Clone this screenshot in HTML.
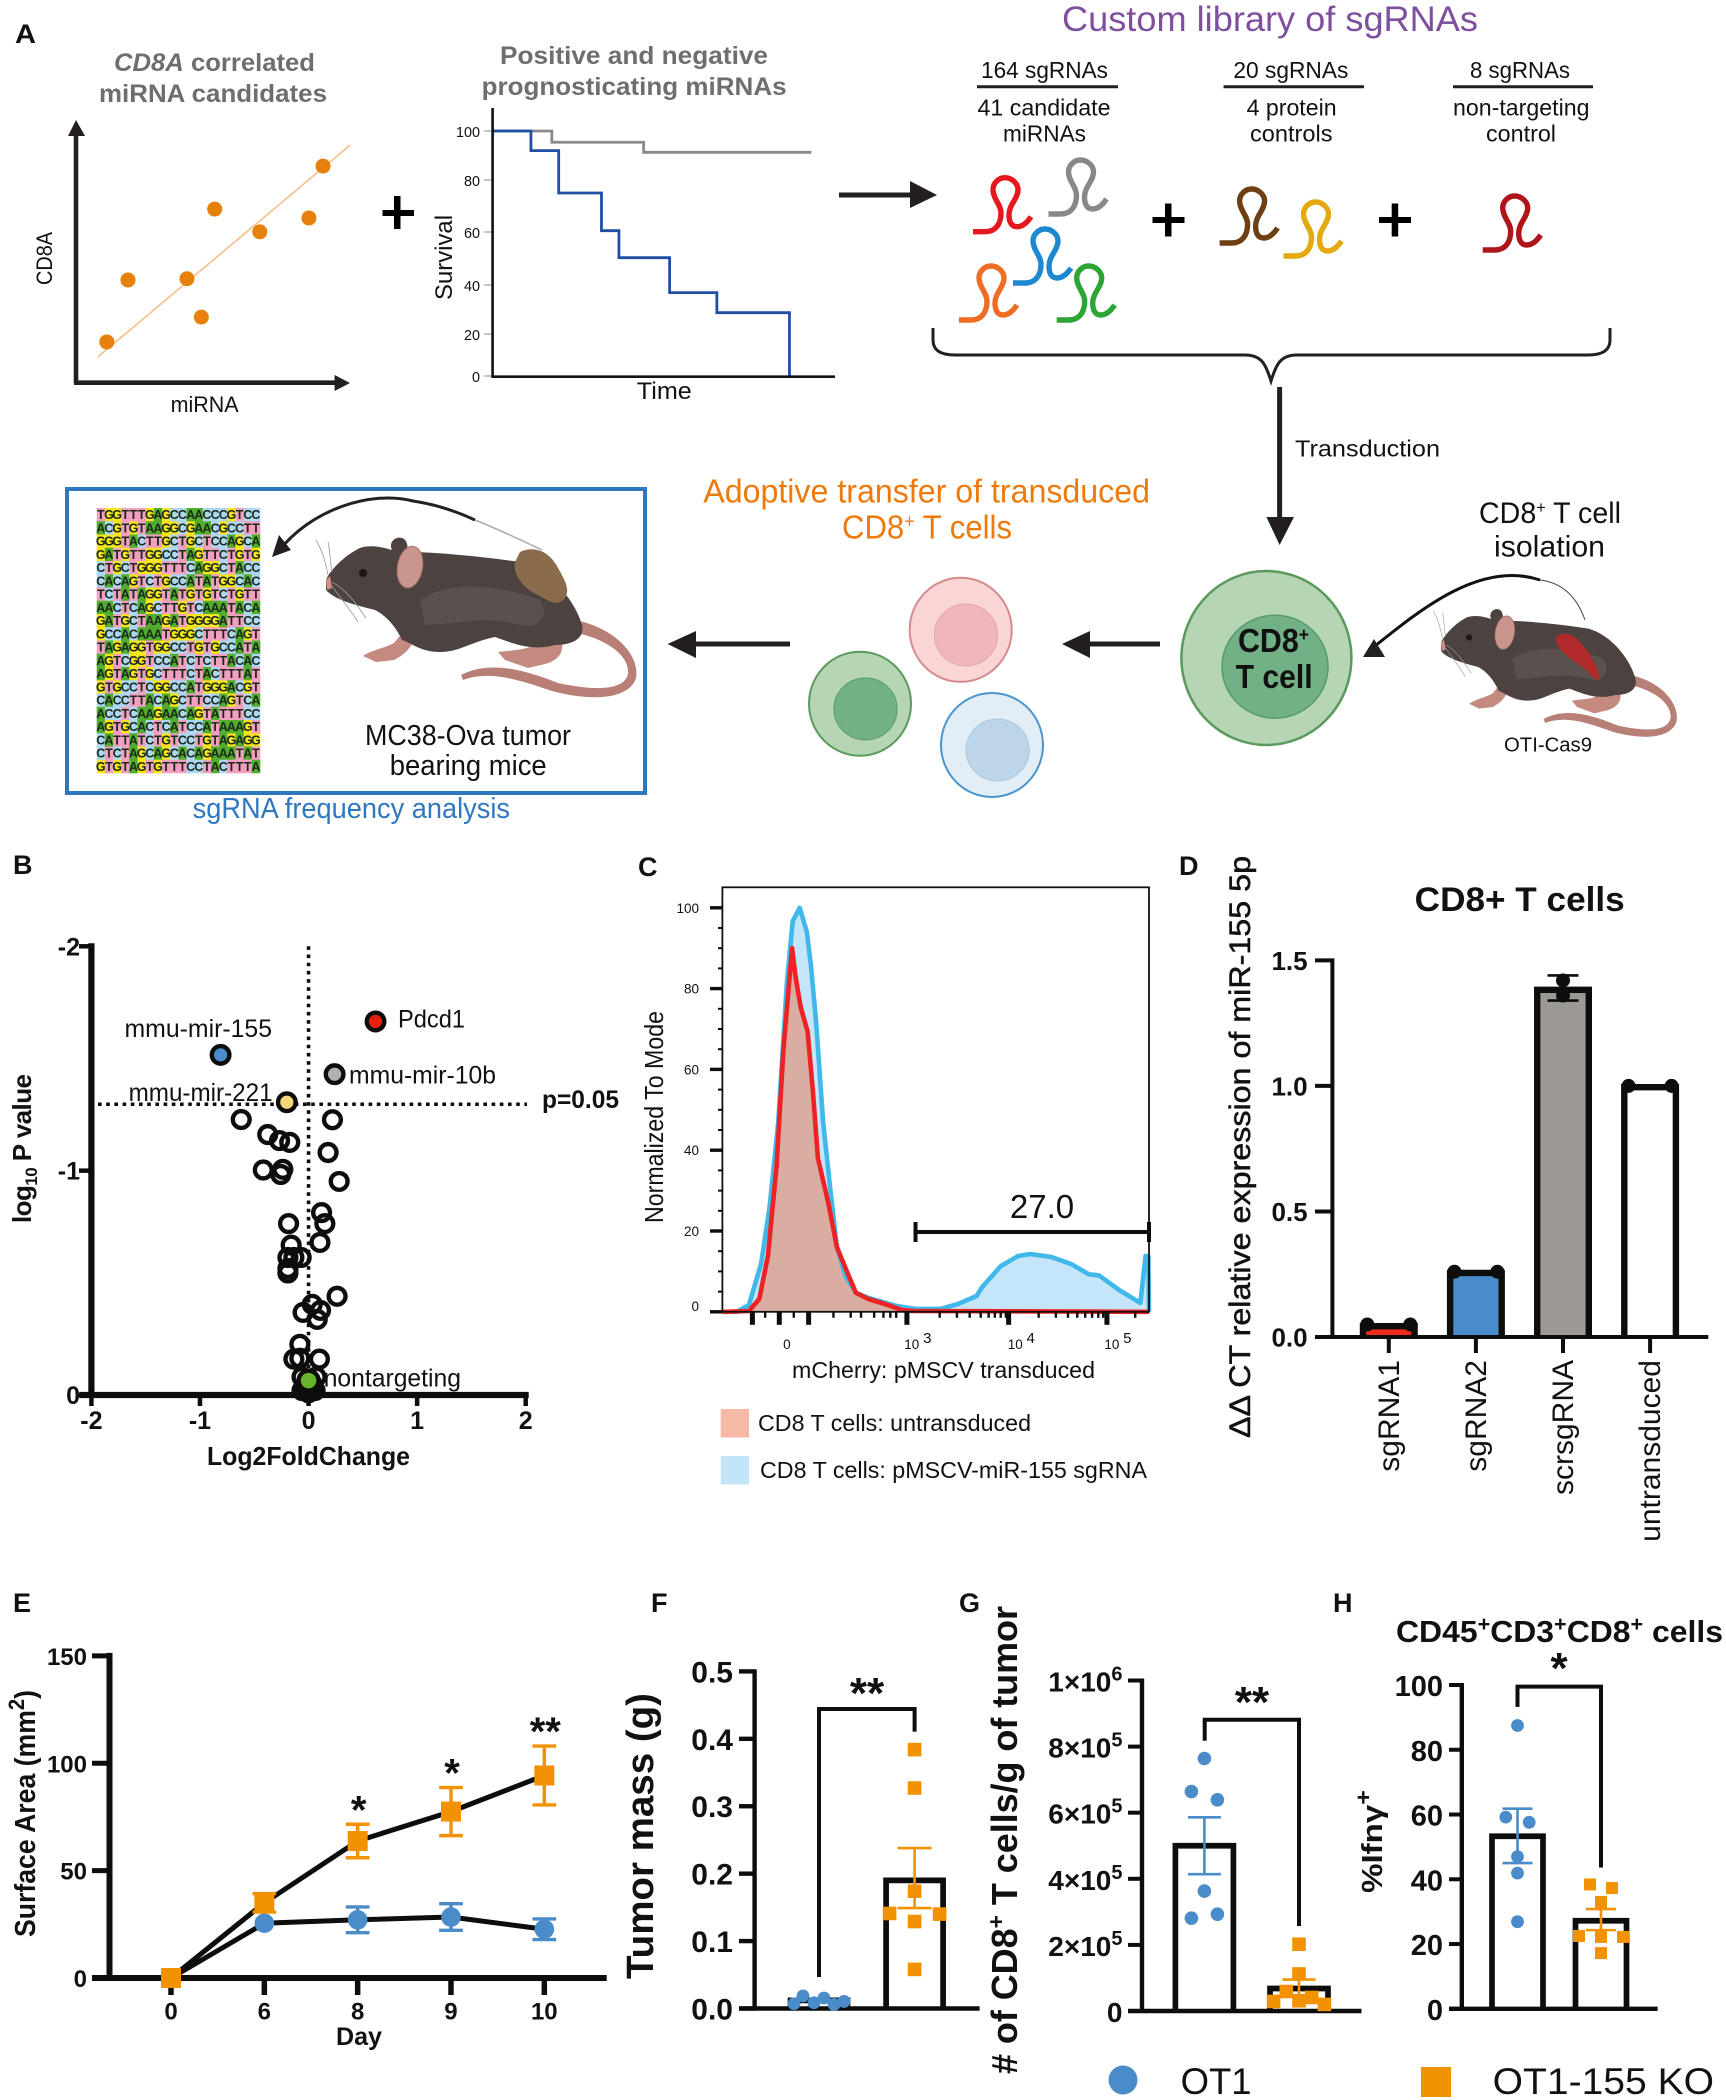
<!DOCTYPE html>
<html lang="en"><head><meta charset="utf-8"><title>Figure</title>
<style>
html,body{margin:0;padding:0;background:#fff}
svg{display:block}
text{font-family:"Liberation Sans",sans-serif;fill:#111}
.b{font-weight:bold}
.pl{font-weight:bold;font-size:27px}
</style></head><body>
<svg id="figure" xmlns="http://www.w3.org/2000/svg" width="1726" height="2100" viewBox="0 0 1726 2100">
<defs>
<path id="hairpin" fill="none" stroke-width="5.4" d="M0,55 H12 C22,55 28,48 28,36 C28,28 20,22 20,13 C20,6 26,1 32,1 C38,1 45,6 45,13 C45,22 36,28 36,38 C36,46 39,50 44,50 C49,50 54,46 58,40"/>
<g id="mouse">
<path fill="#b87f77" d="M575,620 C615,628 640,655 636,678 C628,702 585,700 552,691 C520,680 490,670 463,680 L461,675 C490,660 525,670 558,683 C590,690 624,692 628,674 C630,655 605,638 572,632 Z"/>
<path fill="#c48a80" d="M405,630 L414,640 C410,650 402,656 394,660 L376,662 L363,656 C372,650 385,648 394,643 Z"/>
<path fill="#c48a80" d="M560,636 C566,650 560,660 545,664 L528,668 L505,660 L498,652 C515,650 532,650 540,640 Z"/>
<path fill="#4c4240" d="M326,580 C330,570 345,555 360,548 C372,544 385,548 392,550 C388,542 396,536 402,538 C408,540 408,548 407,552 C430,552 470,555 520,562 C550,570 575,600 582,625 C585,640 570,645 555,645 C530,652 510,642 495,637 C470,642 460,652 440,652 C420,652 410,642 402,640 C395,625 385,615 375,610 C355,605 335,600 326,590 Z"/>
<path fill="#5a504d" d="M420,600 C450,580 500,585 540,600 C550,615 540,630 520,625 C490,615 450,625 425,625 Z"/>
<ellipse cx="410" cy="567" rx="12.500" ry="21" transform="rotate(10 410 567)" fill="#c9958c" stroke="#a8746c"/>
<circle cx="363" cy="573" r="4" fill="#1c1716"/>
<path fill="#d0918a" d="M326,580 L330,576 L332,588 L327,590 Z"/>
<path fill="none" stroke="#999" stroke-width=".8" d="M328,575 C325,560 322,550 316,540 M332,572 C330,560 330,550 328,542 M332,582 C350,592 360,610 366,618 M332,586 C342,600 352,612 358,622"/>
</g>
</defs>
<rect width="1726" height="2100" fill="#fff"/>

<!-- panel labels -->
<text class="pl" x="15" y="43" font-size="29" textLength="21" lengthAdjust="spacingAndGlyphs">A</text>
<text class="pl" x="13" y="874">B</text>
<text class="pl" x="638" y="876">C</text>
<text class="pl" x="1179" y="875">D</text>
<text class="pl" x="13" y="1612">E</text>
<text class="pl" x="651" y="1612">F</text>
<text class="pl" x="959" y="1612">G</text>
<text class="pl" x="1333" y="1612">H</text>

<!-- panel A : scatter illustration -->
<g id="a-scatter">
<text class="b" x="114" y="71" font-size="25" fill="#6d6e71" style="fill:#6d6e71" textLength="201" lengthAdjust="spacingAndGlyphs"><tspan font-style="italic">CD8A</tspan> correlated</text>
<text class="b" x="99" y="102" font-size="25" style="fill:#6d6e71" textLength="228" lengthAdjust="spacingAndGlyphs">miRNA candidates</text>
<path d="M76,383 V130" stroke="#231f20" stroke-width="4.6" fill="none"/>
<path d="M76,120 L85,136 H68 Z" fill="#231f20"/>
<path d="M74,382.7 H338" stroke="#231f20" stroke-width="4.6" fill="none"/>
<path d="M350,383 L334.6,375 V391 Z" fill="#231f20"/>
<text transform="rotate(-90 52 285)" x="52" y="285" font-size="22" textLength="53" lengthAdjust="spacingAndGlyphs">CD8A</text>
<text x="170.6" y="412" font-size="22" textLength="68" lengthAdjust="spacingAndGlyphs">miRNA</text>
</g>
<g fill="#000"><rect x="382.5" y="210" width="31.500" height="6"/><rect x="394" y="196" width="6.500" height="33"/></g>

<!-- panel A : survival -->
<g id="a-survival">
<text class="b" x="500" y="64" font-size="25" style="fill:#6d6e71" textLength="268" lengthAdjust="spacingAndGlyphs">Positive and negative</text>
<text class="b" x="481.600" y="95" font-size="25" style="fill:#6d6e71" textLength="305" lengthAdjust="spacingAndGlyphs">prognosticating miRNAs</text>
<text transform="rotate(-90 452 300)" x="452" y="300" font-size="24" textLength="85" lengthAdjust="spacingAndGlyphs">Survival</text>
<text x="636.800" y="399" font-size="24" textLength="55" lengthAdjust="spacingAndGlyphs">Time</text>
</g>

<!-- arrow to library -->
<g><path d="M839,195 H912" stroke="#231f20" stroke-width="5"/><path d="M937,195 L910,181 V208 Z" fill="#231f20"/></g>

<!-- library -->
<g>
<text x="1062" y="31" font-size="35" style="fill:#7f4f9f" textLength="416" lengthAdjust="spacingAndGlyphs">Custom library of sgRNAs</text>
<text x="981" y="78" font-size="23" textLength="127" lengthAdjust="spacingAndGlyphs">164 sgRNAs</text>
<text x="1233.400" y="78" font-size="23" textLength="115" lengthAdjust="spacingAndGlyphs">20 sgRNAs</text>
<text x="1470" y="78" font-size="23" textLength="100" lengthAdjust="spacingAndGlyphs">8 sgRNAs</text>
<path d="M977,86.700 H1118 M1223.500,86.700 H1364 M1453,86.700 H1593" stroke="#231f20" stroke-width="3"/>
<text x="977.500" y="115.700" font-size="23" textLength="133" lengthAdjust="spacingAndGlyphs">41 candidate</text>
<text x="1003" y="141.700" font-size="23" textLength="83" lengthAdjust="spacingAndGlyphs">miRNAs</text>
<text x="1246.600" y="115.700" font-size="23" textLength="90" lengthAdjust="spacingAndGlyphs">4 protein</text>
<text x="1250" y="141.700" font-size="23" textLength="82.500" lengthAdjust="spacingAndGlyphs">controls</text>
<text x="1453" y="115.700" font-size="23" textLength="136.500" lengthAdjust="spacingAndGlyphs">non-targeting</text>
<text x="1486" y="141.700" font-size="23" textLength="70" lengthAdjust="spacingAndGlyphs">control</text>
<use href="#hairpin" x="973" y="176.700" stroke="#e5181f"/>
<use href="#hairpin" x="1048.500" y="159" stroke="#8a8788"/>
<use href="#hairpin" x="1013" y="228" stroke="#1d87cf"/>
<use href="#hairpin" x="959" y="265" stroke="#ef6c24"/>
<use href="#hairpin" x="1056.700" y="265" stroke="#2da436"/>
<use href="#hairpin" x="1219.600" y="188" stroke="#6d3f12"/>
<use href="#hairpin" x="1283.500" y="201" stroke="#e3a90e"/>
<use href="#hairpin" x="1482.700" y="195" stroke="#ae1518"/>
<g fill="#000"><rect x="1152.500" y="217" width="32" height="6"/><rect x="1165" y="203.500" width="6.500" height="33"/></g>
<g fill="#000"><rect x="1379" y="217" width="32" height="6"/><rect x="1391.700" y="203.500" width="6.500" height="33"/></g>
<path d="M933,328 V340 C933,350 940,355 955,355 H1245 C1262,355 1266,365 1271,381 C1276,365 1280,355 1297,355 H1588 C1603,355 1610,350 1610,340 V328" fill="none" stroke="#231f20" stroke-width="3"/>
</g>
<g><path d="M1279.600,387 V520" stroke="#231f20" stroke-width="5"/><path d="M1279.600,545 L1266.400,517 H1294 Z" fill="#231f20"/></g>
<text x="1295" y="456.700" font-size="23" textLength="145" lengthAdjust="spacingAndGlyphs">Transduction</text>

<!-- cells -->
<g>
<ellipse cx="1266.400" cy="658" rx="85" ry="87" fill="#b5d5b5" stroke="#5a9a5a" stroke-width="2.500"/>
<ellipse cx="1275" cy="666.700" rx="53" ry="51.500" fill="#72b085" stroke="#559b6f" stroke-width="1.500"/>
<text class="b" x="1238" y="652" font-size="33" textLength="71" lengthAdjust="spacingAndGlyphs">CD8<tspan dy="-11" font-size="19">+</tspan></text>
<text class="b" x="1235.600" y="688" font-size="33" textLength="77" lengthAdjust="spacingAndGlyphs">T cell</text>
</g>
<g><ellipse cx="960.700" cy="629.800" rx="51" ry="52" fill="#f9d5d6" stroke="#d58a8f" stroke-width="2"/><ellipse cx="966" cy="635" rx="31.600" ry="31" fill="#f0b7ba" stroke="#e3a5a9"/></g>
<g><ellipse cx="992" cy="745" rx="51" ry="52" fill="#e3edf5" stroke="#4a95cf" stroke-width="2"/><ellipse cx="997.600" cy="750" rx="31.600" ry="31" fill="#bcd5e8" stroke="#a9c7e0"/></g>
<g><ellipse cx="860" cy="703.700" rx="51" ry="52" fill="#b5d5b5" stroke="#5a9a5a" stroke-width="2"/><ellipse cx="865.500" cy="709" rx="31.600" ry="31" fill="#72b085" stroke="#559b6f"/></g>
<g><path d="M1160,644 H1088" stroke="#231f20" stroke-width="5"/><path d="M1062,644 L1090,631 V658 Z" fill="#231f20"/></g>
<g><path d="M790,644 H694" stroke="#231f20" stroke-width="5"/><path d="M667.600,644 L696,631 V658 Z" fill="#231f20"/></g>
<text x="703.300" y="502.700" font-size="33" style="fill:#ee7a0c" textLength="446.700" lengthAdjust="spacingAndGlyphs">Adoptive transfer of transduced</text>
<text x="842" y="538.300" font-size="33" style="fill:#ee7a0c" textLength="170" lengthAdjust="spacingAndGlyphs">CD8<tspan dy="-11" font-size="19">+</tspan><tspan dy="11"> T cells</tspan></text>
<text x="1479" y="523" font-size="30" textLength="142" lengthAdjust="spacingAndGlyphs">CD8<tspan dy="-10" font-size="17">+</tspan><tspan dy="10"> T cell</tspan></text>
<text x="1494" y="556.700" font-size="30" textLength="111" lengthAdjust="spacingAndGlyphs">isolation</text>
<g>
<use href="#mouse" transform="translate(1441 643) scale(.76 .8) translate(-326 -580)"/>
<path d="M1556,638 C1560,631 1572,632 1582,644 C1592,656 1600,672 1599,680 C1595,680 1590,674 1584,668 C1572,660 1556,650 1556,638 Z" fill="#b02a2a"/>
</g>
<g><path d="M1370,650 C1420,610 1480,560 1540,580" stroke="#111" stroke-width="3" fill="none"/><path d="M1540,580 C1565,583 1578,600 1585,620" stroke="#444" stroke-width="1" fill="none"/><path d="M1363,657 L1374,639 L1385,657 Z" fill="#231f20"/></g>
<text x="1504" y="751.700" font-size="20" textLength="88" lengthAdjust="spacingAndGlyphs">OTI-Cas9</text>

<!-- frequency box -->
<rect x="67" y="489" width="578" height="304" fill="none" stroke="#2f78c0" stroke-width="4"/>
<g id="seq-block"></g>
<g>
<use href="#mouse"/>
<path d="M520,552 C535,545 550,552 558,568 C566,582 570,590 565,598 C558,607 550,602 540,596 C525,590 512,575 515,562 Z" fill="#8a6c4c"/>
</g>
<g><path d="M278,552 C310,510 370,490 413,501 C440,505 460,513 475,520" stroke="#222" stroke-width="3" fill="none"/><path d="M475,520 C500,530 525,542 542,550" stroke="#aaa" stroke-width="1.500" fill="none"/><path d="M272,557 L279,535 L291,550 Z" fill="#231f20"/></g>
<text x="365" y="745" font-size="29" textLength="206" lengthAdjust="spacingAndGlyphs">MC38-Ova tumor</text>
<text x="389.700" y="775" font-size="29" textLength="157" lengthAdjust="spacingAndGlyphs">bearing mice</text>
<text x="192.600" y="818" font-size="29" style="fill:#2f78c0" textLength="317.400" lengthAdjust="spacingAndGlyphs">sgRNA frequency analysis</text>

<!-- panel B -->
<g id="panel-b">
<text class="b" transform="rotate(-90 31 1223)" x="31" y="1223" font-size="26" textLength="149">log<tspan font-size="17" dy="6">10</tspan><tspan dy="-6"> P value</tspan></text>
<text class="b" x="207" y="1465" font-size="26" textLength="203" lengthAdjust="spacingAndGlyphs">Log2FoldChange</text>
<text class="b" x="542" y="1108" font-size="25" textLength="77" lengthAdjust="spacingAndGlyphs">p=0.05</text>
<text x="124.500" y="1037" font-size="25" textLength="147.500" lengthAdjust="spacingAndGlyphs">mmu-mir-155</text>
<text x="398" y="1027.500" font-size="25" textLength="67" lengthAdjust="spacingAndGlyphs">Pdcd1</text>
<text x="349" y="1083.500" font-size="25" textLength="147" lengthAdjust="spacingAndGlyphs">mmu-mir-10b</text>
<text x="128.600" y="1101" font-size="25" textLength="144" lengthAdjust="spacingAndGlyphs">mmu-mir-221</text>
</g>

<!-- panel C -->
<g id="panel-c">
<text transform="rotate(-90 663 1223)" x="663" y="1223" font-size="26" textLength="212" lengthAdjust="spacingAndGlyphs">Normalized To Mode</text>
<text x="792" y="1378" font-size="23" textLength="303" lengthAdjust="spacingAndGlyphs">mCherry: pMSCV transduced</text>
<rect x="720.700" y="1409" width="28.300" height="28.500" fill="#f6b9a6"/>
<text x="758" y="1431" font-size="23" textLength="273" lengthAdjust="spacingAndGlyphs">CD8 T cells: untransduced</text>
<rect x="720.700" y="1456" width="28.300" height="28.500" fill="#c3e5f9"/>
<text x="760" y="1478" font-size="23" textLength="387" lengthAdjust="spacingAndGlyphs">CD8 T cells: pMSCV-miR-155 sgRNA</text>
</g>

<!-- panel D -->
<g id="panel-d">
<text class="b" x="1414.700" y="911" font-size="34" textLength="210" lengthAdjust="spacingAndGlyphs">CD8+ T cells</text>
<text transform="rotate(-90 1250 1438)" x="1250" y="1438" font-size="30" textLength="582" lengthAdjust="spacingAndGlyphs" stroke="#111" stroke-width=".5">ΔΔ CT relative expression of miR-155 5p</text>
</g>

<!-- panel E -->
<g id="panel-e">
<text class="b" transform="rotate(-90 35 1937)" x="35" y="1937" font-size="29" textLength="247" lengthAdjust="spacingAndGlyphs">Surface Area (mm<tspan dy="-11" font-size="22">2</tspan><tspan dy="11">)</tspan></text>
<text class="b" x="336" y="2045" font-size="25" textLength="46" lengthAdjust="spacingAndGlyphs">Day</text>
</g>

<!-- panel F -->
<g id="panel-f">
<text class="b" transform="rotate(-90 653 1979)" x="653" y="1979" font-size="38" textLength="286" lengthAdjust="spacingAndGlyphs">Tumor mass (g)</text>
</g>

<!-- panel G -->
<g id="panel-g">
<text class="b" transform="rotate(-90 1017 2074)" x="1017" y="2074" font-size="36" textLength="468">
# of CD8<tspan dy="-13" font-size="23">+</tspan><tspan dy="13"> T cells/g of tumor</tspan></text>
</g>

<!-- panel H -->
<g id="panel-h">
<text class="b" x="1396" y="1642" font-size="31" textLength="327" lengthAdjust="spacingAndGlyphs">CD45<tspan dy="-11" font-size="21">+</tspan><tspan dy="11">CD3</tspan><tspan dy="-11" font-size="21">+</tspan><tspan dy="11">CD8</tspan><tspan dy="-11" font-size="21">+</tspan><tspan dy="11"> cells</tspan></text>
<text class="b" transform="rotate(-90 1382 1893)" x="1382" y="1893" font-size="29" textLength="103" lengthAdjust="spacingAndGlyphs">%Ifnγ<tspan dy="-11" font-size="22">+</tspan></text>
</g>

<!-- shared legend -->
<g>
<circle cx="1123" cy="2080" r="14.500" fill="#4a8bc9"/>
<text x="1180.600" y="2094" font-size="37" textLength="71" lengthAdjust="spacingAndGlyphs">OT1</text>
<rect x="1421" y="2067" width="30" height="30" fill="#f39200"/>
<text x="1492.700" y="2094" font-size="37" textLength="221.300" lengthAdjust="spacingAndGlyphs">OT1-155 KO</text>
</g>
</svg>
<script>
// ---------- Panel A data ----------
const scatterMirna = [0.035, 0.119, 0.353, 0.41, 0.463, 0.642, 0.837, 0.893];
const scatterCd8a = [0.133, 0.375, 0.38, 0.23, 0.652, 0.563, 0.617, 0.82];
const scatterFitX = [0, 1];
const scatterFitY = [0.075, 0.902];
const survivalTicks = [100, 80, 60, 40, 20, 0];
const survivalBlueTime = [0, 11.2, 19.3, 31.8, 36.9, 51.7, 65.5, 86.7];
const survivalBlueLevel = [100, 92, 75, 60.5, 50.3, 36.9, 28.7, 0];
const survivalGrayTime = [0, 17.3, 44.1, 93.1];
const survivalGrayLevel = [100, 95.4, 91.3, 91.3];
const sequenceRows = ["TGGTTTGAGCCAACCCGTCC","ACGTGTAAGGCGAACGCCTT","GGGTACTTGCTGCTCCAGCA","GATGTTGGCCTAGTTCTGTG","CTGCTGGGTTTCAGGCTACC","CACAGTCTGCCATATGGCAC","TCTATAGGTATGTGTCTGTT","AACTCAGCTTGTCAAATACA","GATGCTAAGATGGGGATTCC","GCCACAAATGGGCTTTCAGT","TAGAGGTGGCCTGTGCCATA","AGTCGGTCCATCTCTTACAC","AGTAGTGCTTTCTACTTTAT","GTGCCTCGGCCATGGGACGT","CACCTTACAGCTTCCAGTCA","ACCTCAAGAACAGTATTTCC","AGTGCACTCATCCATAAAGT","CATTATCTGTCCTGTAGAGG","CTCTAGCAGCACAGAAATAT","GTGTAGTGTTTCCTACTTTA"];
// ---------- Panel B data ----------
const bTicksX = [-2, -1, 0, 1, 2];
const bTicksY = [-2, -1, 0];
const bOpenFC = [-0.62,0.22,-0.376,-0.267,-0.173,0.18,-0.417,-0.237,-0.256,0.282,0.12,0.15,-0.184,0.105,-0.16,-0.19,-0.135,-0.068,-0.19,-0.19,0.263,0.034,0.11,-0.05,0.08,-0.08,0.1,-0.135,-0.08,-0.06,0.07,0,-0.04,0.04,-0.03,0.03,-0.06,0.06,0];
const bOpenP = [-1.228,-1.227,-1.161,-1.134,-1.126,-1.081,-1.003,-1.006,-0.983,-0.952,-0.813,-0.764,-0.764,-0.68,-0.668,-0.613,-0.613,-0.613,-0.564,-0.544,-0.44,-0.404,-0.377,-0.368,-0.337,-0.226,-0.16,-0.16,-0.164,-0.08,-0.08,-0.01,-0.03,-0.03,-0.04,-0.05,-0.02,-0.02,-0.06];
const bHitFC = [0.617, -0.81, 0.24, -0.2, 0];
const bHitP = [-1.665, -1.516, -1.43, -1.305, -0.064];
const bThresholdP = -1.296;
const bNontargetLabel = ["nontargeting"];
// ---------- Panel C data ----------
const cYTicks = [100, 80, 60, 40, 20, 0];
const cYMinor = [95,90,85,75,70,65,55,50,45,35,30,25,15,10,5];
const cBlueChannel = [0,42,77,112,137,162,187,204,224,245,257,272,292,312,332,357,387,422,462,502,562,632,682,737,752,807,857,892,952,1012,1062,1092,1152,1212,1227,1235,1237];
const cBlueValue = [0,0,1.7,11.8,26,47,81.5,96.7,100,94,85.5,71.4,47,31,16,8.8,4.7,3.5,2.5,1.5,0.7,0.7,1.9,3.9,6,11.3,13.8,14.3,13.6,11.8,9.3,9,5.3,2.2,13.8,13.8,0];
const cRedChannel = [0,12,77,107,132,157,177,202,212,227,247,262,277,307,332,357,387,422,472,522,552,1237];
const cRedValue = [0,0,0.2,3.2,13.8,36,65,90,83,75.4,69.4,55,38,27,16,10.8,4.7,3.2,1.9,0.4,0.2,0];
const cLogTicksMajor = [87,165,250,535,830,1115];
const cLogTicksMinor = [124,207,322,372,402,440,467,487,504,630,680,717,749,772,790,807,822,917,967,1002,1029,1052,1072,1090,1104,1197];
const cGateChannels = [560, 1237];
const cGateLevel = 20;
const cGateLabel = "27.0";
const cZeroLabelChannel = [187];
const cDecadeChannels = [532, 832, 1112];
const cDecadeExponents = ["3", "4", "5"];
// ---------- Panel D data ----------
const dCategories = ["sgRNA1", "sgRNA2", "scrsgRNA", "untransduced"];
const dMeans = [0.043, 0.255, 1.383, 0.995];
const dRep1 = [0.05, 0.26, 1.42, 1];
const dRep2 = [0.05, 0.26, 1.36, 1];
const dErrHigh = [0.05, 0.26, 1.44, 1];
const dErrLow = [0.04, 0.25, 1.34, 0.99];
const dTicks = [0, 0.5, 1, 1.5];
const dTickLabels = ["0.0", "0.5", "1.0", "1.5"];
// ---------- Panel E data ----------
const eDays = ["0", "6", "8", "9", "10"];
const eTicks = [0, 50, 100, 150];
const eOt1 = [0, 25.5, 27.1, 28.4, 22.7];
const eOt1Err = [0, 0, 6, 6.2, 4.8];
const eKo = [0, 35, 63.8, 77.5, 94.3];
const eKoErr = [0, 4.3, 7.8, 11.2, 13.7];
const eStars = ["", "", "*", "*", "**"];
// ---------- Panel F data ----------
const fTicks = [0, 0.1, 0.2, 0.3, 0.4, 0.5];
const fTickLabels = ["0.0", "0.1", "0.2", "0.3", "0.4", "0.5"];
const fOt1Mean = 0.012;
const fOt1 = [0.007, 0.0186, 0.0085, 0.0156, 0.006, 0.0105];
const fOt1Slot = [-2.5, -1.6, -0.5, 0.5, 1.5, 2.5];
const fKoMean = 0.19;
const fKo = [0.384, 0.327, 0.174, 0.141, 0.14, 0.129, 0.058];
const fKoSlot = [0, 0, 0, -1, 1, 0, 0];
const fKoErrHigh = 0.238;
const fKoErrLow = 0.149;
// ---------- Panel G data ----------
const gTicks = [0, 200000, 400000, 600000, 800000, 1000000];
const gTickMantissa = ["0", "2×10", "4×10", "6×10", "8×10", "1×10"];
const gTickExponent = ["", "5", "5", "5", "5", "6"];
const gOt1Mean = 500000;
const gOt1 = [764000, 664000, 639000, 363000, 293000, 281000];
const gOt1Slot = [0, -1, 1, 0, 1, -1];
const gOt1ErrHigh = 586000;
const gOt1ErrLow = 414000;
const gKoMean = 68000;
const gKo = [202000, 112000, 59000, 29000, 31000, 41000, 20000];
const gKoSlot = [0, 0, -1, -2, 0, 1, 2];
const gKoErrHigh = 95000;
const gKoErrLow = 45000;
// ---------- Panel H data ----------
const hTicks = [0, 20, 40, 60, 80, 100];
const hOt1Mean = 53.3;
const hOt1 = [87.5, 59.2, 57.6, 47, 41.9, 26.9];
const hOt1Slot = [0, -1.3, 1.3, 0, 0, 0];
const hOt1ErrHigh = 61.8;
const hOt1ErrLow = 45;
const hKoMean = 27.2;
const hKo = [38.4, 37.3, 33, 22.5, 22.2, 22.2, 17.2];
const hKoSlot = [-1, 1, 0, -2, 2, 0, 0];
const hKoErrHigh = 30.8;
const hKoErrLow = 24.3;

const NS = 'http://www.w3.org/2000/svg';
const BLUE = '#4a8bc9', ORANGE = '#f39200', INK = '#0d0d0b';
function mk(tag, attrs, parent) {
  const el = document.createElementNS(NS, tag);
  for (const k in attrs) el.setAttribute(k, attrs[k]);
  parent.appendChild(el);
  return el;
}
function linear(d0, d1, r0, r1) { return v => r0 + (v - d0) * (r1 - r0) / (d1 - d0); }
function piecewise(dom, ran) {
  return v => {
    for (let i = 0; i < dom.length - 1; i++) {
      if (v >= dom[i] && v <= dom[i + 1]) return ran[i] + (v - dom[i]) * (ran[i + 1] - ran[i]) / (dom[i + 1] - dom[i]);
    }
    return ran[0];
  };
}
function axisLine(g, x1, y1, x2, y2, w, name) {
  const line = mk('line', {x1, y1, x2, y2, stroke: INK, 'stroke-width': w}, g);
  
  
  return line;
}
function yTicks(g, scale, ticks, labels, c) {
  ticks.forEach((t, i) => {
    const tick = mk('line', {x1: c.x0, y1: scale(t), x2: c.x1, y2: scale(t), stroke: INK, 'stroke-width': c.w}, g);
    
    
    const lab = mk('text', {x: c.lx, y: scale(t) + c.dy, 'text-anchor': 'end', 'font-size': c.fs, 'font-weight': c.fw || 'bold'}, g);
    lab.textContent = labels[i];
    
    
  });
}
function errorBar(g, x, yHigh, yLow, cap, color, w) {
  const stem = mk('path', {d: `M${x},${yHigh} V${yLow} M${x - cap / 2},${yHigh} H${x + cap / 2} M${x - cap / 2},${yLow} H${x + cap / 2}`, stroke: color, 'stroke-width': w, fill: 'none'}, g);
  
  
}
function barRect(g, cx, width, yTop, y0, fill, sw, name) {
  const bar = mk('path', {d: `M${cx - width / 2},${y0} V${yTop} H${cx + width / 2} V${y0}`, fill, stroke: INK, 'stroke-width': sw}, g);
  
  
}
function dotsCircle(g, xs, ys, r) {
  xs.forEach((x, i) => {
    const dot = mk('circle', {cx: x, cy: ys[i], r, fill: BLUE}, g);
    
    
  });
}
function dotsSquare(g, xs, ys, s) {
  xs.forEach((x, i) => {
    const dot = mk('rect', {x: x - s / 2, y: ys[i] - s / 2, width: s, height: s, fill: ORANGE}, g);
    
    
  });
}
function bracket(g, x1, yStart, yTop, x2, yEnd, star, sx, sy, fs) {
  const br = mk('path', {d: `M${x1},${yStart} V${yTop} H${x2} V${yEnd}`, fill: 'none', stroke: INK, 'stroke-width': 4}, g);
  
  
  const st = mk('text', {x: sx, y: sy, 'text-anchor': 'middle', 'font-size': fs, 'font-weight': 'bold'}, g);
  st.textContent = star;
  
  
}

// ---------- Panel A scatter ----------
(function () {
  const g = document.getElementById('a-scatter');
  const sx = linear(0, 1, 98, 350), sy = linear(0, 1, 376, 120);
  const fit = mk('line', {x1: sx(scatterFitX[0]), y1: sy(scatterFitY[0]), x2: sx(scatterFitX[1]), y2: sy(scatterFitY[1]), stroke: '#f5c089', 'stroke-width': 1.6}, g);
  
  
  scatterMirna.forEach((m, i) => {
    const p = mk('circle', {cx: sx(m), cy: sy(scatterCd8a[i]), r: 7.5, fill: '#e8800c'}, g);
    
    
  });
})();
// ---------- Panel A survival ----------
(function () {
  const g = document.getElementById('a-survival');
  const st = linear(0, 100, 492.6, 835);
  const sv = piecewise([0, 20, 40, 60, 80, 100], [376, 334, 285, 232, 180, 131]);
  survivalTicks.forEach(t => {
    const tick = mk('line', {x1: 484, y1: sv(t), x2: 492, y2: sv(t), stroke: '#888', 'stroke-width': 1}, g);
    
    
    const lab = mk('text', {x: 480, y: sv(t) + 6, 'text-anchor': 'end', 'font-size': 15, textLength: String(t).length * 8, lengthAdjust: 'spacingAndGlyphs'}, g);
    lab.textContent = t;
    
    
  });
  function stepPath(ts, ls, close) {
    let d = `M${st(ts[0])},${sv(ls[0])}`;
    for (let i = 1; i < ts.length; i++) d += ` H${st(ts[i])} V${sv(ls[i])}`;
    return d;
  }
  const gray = mk('path', {d: stepPath(survivalGrayTime, survivalGrayLevel), fill: 'none', stroke: '#8a8a8a', 'stroke-width': 2.8}, g);
  
  
  const blue = mk('path', {d: stepPath(survivalBlueTime, survivalBlueLevel), fill: 'none', stroke: '#1f4fa3', 'stroke-width': 2.8}, g);
  
  
  const ax = mk('path', {d: `M492.600,108 V376.700 H835`, fill: 'none', stroke: '#111', 'stroke-width': 2.6}, g);
  
  
})();
// ---------- Sequence block ----------
(function () {
  const g = document.getElementById('seq-block');
  const colors = {T: '#f29fc0', G: '#f7e51c', A: '#52ad2e', C: '#aed8f2'};
  const cw = 163.3 / 20, ch = 265 / 20, x0 = 96.7, y0 = 508;
  sequenceRows.forEach((row, r) => {
    const rowG = mk('g', {}, g);
    
    
    [...row].forEach((ch_, c) => {
      const cell = mk('rect', {x: x0 + c * cw, y: y0 + r * ch, width: cw + 0.3, height: ch + 0.3, fill: colors[ch_]}, rowG);
      
      
    });
    const xs = [...row].map((_, c) => (x0 + (c + 0.5) * cw).toFixed(2)).join(' ');
    const t = mk('text', {x: xs, y: y0 + r * ch + 11.2, 'text-anchor': 'middle', 'font-size': 12.5, 'font-weight': 'bold'}, rowG);
    t.style.fill = '#1a2a1a';
    t.textContent = row;
    
    
  });
})();
// ---------- Panel B ----------
(function () {
  const g = document.getElementById('panel-b');
  const x = linear(-2, 2, 91.4, 525.7), y = linear(-2, 0, 946.3, 1395);
  const hd = mk('line', {x1: 98, y1: y(bThresholdP), x2: 527, y2: y(bThresholdP), stroke: INK, 'stroke-width': 3.6, 'stroke-dasharray': '3.6 4.6'}, g);
  
  
  const vd = mk('line', {x1: x(0), y1: y(-2), x2: x(0), y2: y(0), stroke: INK, 'stroke-width': 3.6, 'stroke-dasharray': '3.6 4.6'}, g);
  
  
  bOpenFC.forEach((fc, i) => {
    const c = mk('circle', {cx: x(fc), cy: y(bOpenP[i]), r: 8.4, fill: 'none', stroke: INK, 'stroke-width': 4.4}, g);
    
    
  });
  const hitFill = ['#e8200f', '#4a8bc9', '#b3b1b0', '#f8d97a', '#67b42c'];
  const hitName = ['pdcd1-point', 'mmu-mir-155-point', 'mmu-mir-10b-point', 'mmu-mir-221-point', 'nontargeting-point'];
  bHitFC.forEach((fc, i) => {
    const c = mk('circle', {cx: x(fc), cy: y(bHitP[i]), r: i === 4 ? 10 : 8.8, fill: hitFill[i], stroke: INK, 'stroke-width': i === 4 ? 4.5 : 4.4}, g);
    
    
  });
  const nt = mk('text', {x: 323.7, y: 1386.7, 'font-size': 25, textLength: 137.3, lengthAdjust: 'spacingAndGlyphs'}, g);
  nt.textContent = bNontargetLabel[0];
  
  
  axisLine(g, x(-2), y(-2) - 3, x(-2), y(0), 6.2, 'volcano-y-axis');
  axisLine(g, x(-2) - 12, y(0), x(2) + 3, y(0), 6.2, 'volcano-x-axis');
  yTicks(g, y, bTicksY, bTicksY.map(String), {x0: 79, x1: x(-2), w: 4.5, lx: 80, dy: 9, fs: 25});
  bTicksX.forEach(t => {
    const tick = mk('line', {x1: x(t), y1: y(0), x2: x(t), y2: 1406, stroke: INK, 'stroke-width': 4.5}, g);
    
    
    const lab = mk('text', {x: x(t), y: 1429, 'text-anchor': 'middle', 'font-size': 25, 'font-weight': 'bold'}, g);
    lab.textContent = t;
    
    
  });
})();
// ---------- Panel C ----------
(function () {
  const g = document.getElementById('panel-c');
  const x = linear(0, 1237, 722.4, 1149), y = linear(0, 100, 1311.8, 907.8);
  function areaPath(ch, val) {
    let d = `M${x(ch[0])},${y(0)}`;
    ch.forEach((c, i) => { d += ` L${x(c)},${y(val[i])}`; });
    return d + ` L${x(ch[ch.length - 1])},${y(0)} Z`;
  }
  function linePath(ch, val) { return ch.map((c, i) => (i ? 'L' : 'M') + x(c) + ',' + y(val[i])).join(' '); }
  const bf = mk('path', {d: areaPath(cBlueChannel, cBlueValue), fill: '#c5e6fa'}, g);
  
  
  const rf = mk('path', {d: areaPath(cRedChannel, cRedValue), fill: '#d9ada2'}, g);
  
  
  const bl = mk('path', {d: linePath(cBlueChannel, cBlueValue), fill: 'none', stroke: '#41b8ea', 'stroke-width': 4.6, 'stroke-linejoin': 'round'}, g);
  
  
  const rl = mk('path', {d: linePath(cRedChannel, cRedValue), fill: 'none', stroke: '#ee2224', 'stroke-width': 4.6, 'stroke-linejoin': 'round'}, g);
  
  
  const box = mk('rect', {x: x(0), y: 887.3, width: x(1237) - x(0), height: y(0) - 887.3, fill: 'none', stroke: '#111', 'stroke-width': 1.8}, g);
  
  
  cYTicks.forEach(t => {
    const tick = mk('line', {x1: 710, y1: y(t), x2: x(0), y2: y(t), stroke: INK, 'stroke-width': 3.4}, g);
    
    
    const lab = mk('text', {x: 699, y: y(t) + (t === 0 ? -1 : 5), 'text-anchor': 'end', 'font-size': 13.5}, g);
    lab.textContent = t;
    
    
  });
  cYMinor.forEach(t => {
    const tick = mk('line', {x1: 718, y1: y(t), x2: x(0), y2: y(t), stroke: INK, 'stroke-width': 2}, g);
    
    
  });
  cLogTicksMajor.forEach(c => {
    const tick = mk('line', {x1: x(c), y1: y(0), x2: x(c), y2: y(0) + 13, stroke: INK, 'stroke-width': 5}, g);
    
    
  });
  cLogTicksMinor.forEach(c => {
    const tick = mk('line', {x1: x(c), y1: y(0), x2: x(c), y2: y(0) + 6, stroke: INK, 'stroke-width': 2.4}, g);
    
    
  });
  const zero = mk('text', {x: x(cZeroLabelChannel[0]), y: 1349, 'text-anchor': 'middle', 'font-size': 13.5}, g);
  zero.textContent = '0';
  
  
  cDecadeChannels.forEach((c, i) => {
    const lab = mk('text', {x: x(c) + 12, y: 1349, 'text-anchor': 'middle', 'font-size': 13.5}, g);
    lab.textContent = '10 ';
    
    
    const sup = mk('tspan', {dy: -6, 'font-size': 15}, lab);
    sup.textContent = cDecadeExponents[i];
  });
  const gate = mk('path', {d: `M${x(cGateChannels[0])},${y(cGateLevel) + 1} H${x(cGateChannels[1])} M${x(cGateChannels[0])},${y(cGateLevel) - 9} v20 M${x(cGateChannels[1])},${y(cGateLevel) - 9} v20`, stroke: INK, 'stroke-width': 4, fill: 'none'}, g);
  
  
  const gl = mk('text', {x: 1042, y: 1218, 'text-anchor': 'middle', 'font-size': 33}, g);
  gl.textContent = cGateLabel;
  
  
})();
// ---------- Panel D ----------
(function () {
  const g = document.getElementById('panel-d');
  const y = linear(0, 1.5, 1337, 960.4);
  const x = i => 1388.8 + i * 87.1;
  const fills = ['#ee2b1c', '#4a8bc9', '#9c9896', '#ffffff'];
  dCategories.forEach((cat, i) => {
    barRect(g, x(i), 51.6, y(dMeans[i]), 1337, fills[i], 6.4, 'bar-' + cat);
  });
  dCategories.forEach((cat, i) => {
    if (dErrHigh[i] - dErrLow[i] > 0.02) errorBar(g, x(i), y(dErrHigh[i]), y(dErrLow[i]), 31, INK, 2.6);
    const spread = i === 2 ? 0 : 21.5;
    [dRep1[i], dRep2[i]].forEach((v, k) => {
      const p = mk('circle', {cx: x(i) + (k ? spread : -spread), cy: y(v), r: 7, fill: INK}, g);
      
      
    });
    const tick = mk('line', {x1: x(i), y1: 1337, x2: x(i), y2: 1353, stroke: INK, 'stroke-width': 4}, g);
    
    
    const lab = mk('text', {transform: `rotate(-90 ${x(i) + 10} 1360)`, x: x(i) + 10, y: 1360, 'text-anchor': 'end', 'font-size': 30}, g);
    lab.textContent = cat;
    
    
  });
  axisLine(g, 1332.4, y(1.5) - 2, 1332.4, 1339, 4, 'qpcr-y-axis');
  axisLine(g, 1315, 1337, 1708.3, 1337, 4, 'qpcr-x-axis');
  yTicks(g, y, dTicks, dTickLabels, {x0: 1315, x1: 1332, w: 4, lx: 1307.6, dy: 9.5, fs: 26});
})();
// ---------- Panel E ----------
(function () {
  const g = document.getElementById('panel-e');
  const y = linear(0, 150, 1978, 1655.9);
  const x = i => 171 + i * 93.33;
  axisLine(g, 109.5, y(150) - 3, 109.5, 1981, 6, 'growth-y-axis');
  axisLine(g, 92, 1978, 606.7, 1978, 6, 'growth-x-axis');
  yTicks(g, y, eTicks, eTicks.map(String), {x0: 92, x1: 109.5, w: 5, lx: 87, dy: 9, fs: 24});
  eDays.forEach((d, i) => {
    const tick = mk('line', {x1: x(i), y1: 1978, x2: x(i), y2: 1995, stroke: INK, 'stroke-width': 5.5}, g);
    
    
    const lab = mk('text', {x: x(i), y: 2019.6, 'text-anchor': 'middle', 'font-size': 24, 'font-weight': 'bold'}, g);
    lab.textContent = d;
    
    
  });
  const lineOt1 = mk('path', {d: eOt1.map((v, i) => (i ? 'L' : 'M') + x(i) + ',' + y(v)).join(' '), fill: 'none', stroke: INK, 'stroke-width': 5}, g);
  
  
  const lineKo = mk('path', {d: eKo.map((v, i) => (i ? 'L' : 'M') + x(i) + ',' + y(v)).join(' '), fill: 'none', stroke: INK, 'stroke-width': 5}, g);
  
  
  eOt1.forEach((v, i) => {
    if (eOt1Err[i] > 0) errorBar(g, x(i), y(v + eOt1Err[i]), y(v - eOt1Err[i]), 23.7, BLUE, 3.4);
    const m = mk('circle', {cx: x(i), cy: y(v), r: 9.8, fill: BLUE}, g);
    
    
  });
  eKo.forEach((v, i) => {
    if (eKoErr[i] > 0) errorBar(g, x(i), y(v + eKoErr[i]), y(v - eKoErr[i]), 23.7, ORANGE, 3.4);
    const m = mk('rect', {x: x(i) - 10, y: y(v) - 10, width: 20, height: 20, fill: ORANGE}, g);
    
    
    if (eStars[i]) {
      const s = mk('text', {x: x(i) + 1, y: y(v + eKoErr[i]) - 1, 'text-anchor': 'middle', 'font-size': 40, 'font-weight': 'bold'}, g);
      s.textContent = eStars[i];
      
      
    }
  });
})();
// ---------- Panel F ----------
(function () {
  const g = document.getElementById('panel-f');
  const y = linear(0, 0.5, 2008.5, 1671.4);
  const cO = 819, cK = 914.6;
  barRect(g, cO, 57, y(fOt1Mean), 2008.5, '#fff', 5.7, 'bar-ot1');
  barRect(g, cK, 57, y(fKoMean), 2008.5, '#fff', 5.7, 'bar-ko');
  axisLine(g, 754.6, y(0.5) - 2, 754.6, 2010, 4.4, 'mass-y-axis');
  axisLine(g, 739, 2008.5, 979.6, 2008.5, 4.4, 'mass-x-axis');
  yTicks(g, y, fTicks, fTickLabels, {x0: 739, x1: 755, w: 4.4, lx: 733, dy: 11, fs: 30});
  errorBar(g, cK, y(fKoErrHigh), y(fKoErrLow), 34, ORANGE, 2.6);
  dotsCircle(g, fOt1.map((v, i) => cO + fOt1Slot[i] * 10), fOt1.map(y), 6.4);
  dotsSquare(g, fKo.map((v, i) => cK + fKoSlot[i] * 25), fKo.map(y), 13.6);
  bracket(g, 819, 1977, 1709, 914.6, 1731.6, '**', 867, 1708, 44);
})();
// ---------- Panel G ----------
(function () {
  const g = document.getElementById('panel-g');
  const y = linear(0, 1000000, 2011, 1680.5);
  const cO = 1204.4, cK = 1299;
  barRect(g, cO, 58, y(gOt1Mean), 2011, '#fff', 5.7, 'bar-ot1');
  barRect(g, cK, 58, y(gKoMean), 2011, '#fff', 5.7, 'bar-ko');
  axisLine(g, 1142, y(1000000) - 2, 1142, 2013, 4.4, 'count-y-axis');
  axisLine(g, 1128, 2011, 1361.5, 2011, 4.4, 'count-x-axis');
  gTicks.forEach((t, i) => {
    const tick = mk('line', {x1: 1128, y1: y(t), x2: 1142, y2: y(t), stroke: INK, 'stroke-width': 4}, g);
    
    
    const lab = mk('text', {x: 1122.5, y: y(t) + 11, 'text-anchor': 'end', 'font-size': 28, 'font-weight': 'bold'}, g);
    lab.textContent = gTickMantissa[i];
    
    
    if (gTickExponent[i]) {
      const sup = mk('tspan', {dy: -11, 'font-size': 20}, lab);
      sup.textContent = gTickExponent[i];
    }
  });
  errorBar(g, cO, y(gOt1ErrHigh), y(gOt1ErrLow), 33, BLUE, 2.6);
  errorBar(g, cK, y(gKoErrHigh), y(gKoErrLow), 33, ORANGE, 2.6);
  dotsCircle(g, gOt1.map((v, i) => cO + gOt1Slot[i] * 13), gOt1.map(y), 6.8);
  dotsSquare(g, gKo.map((v, i) => cK + gKoSlot[i] * 12.7), gKo.map(y), 13.6);
  bracket(g, 1204.7, 1740.7, 1719.8, 1299, 1926, '**', 1252, 1717, 44);
})();
// ---------- Panel H ----------
(function () {
  const g = document.getElementById('panel-h');
  const y = linear(0, 100, 2008.8, 1685);
  const cO = 1517.5, cK = 1601;
  barRect(g, cO, 51, y(hOt1Mean), 2008.8, '#fff', 5.7, 'bar-ot1');
  barRect(g, cK, 51, y(hKoMean), 2008.8, '#fff', 5.7, 'bar-ko');
  axisLine(g, 1461.8, y(100) - 2, 1461.8, 2010.8, 4.4, 'ifng-y-axis');
  axisLine(g, 1449, 2008.8, 1657.6, 2008.8, 4.4, 'ifng-x-axis');
  yTicks(g, y, hTicks, hTicks.map(String), {x0: 1449, x1: 1462, w: 4, lx: 1443, dy: 11, fs: 29});
  errorBar(g, cO, y(hOt1ErrHigh), y(hOt1ErrLow), 30, BLUE, 2.6);
  errorBar(g, cK, y(hKoErrHigh), y(hKoErrLow), 30, ORANGE, 2.6);
  dotsCircle(g, hOt1.map((v, i) => cO + hOt1Slot[i] * 9), hOt1.map(y), 6.4);
  dotsSquare(g, hKo.map((v, i) => cK + hKoSlot[i] * 11), hKo.map(y), 12);
  bracket(g, 1517.5, 1706.9, 1686.6, 1601, 1867.5, '*', 1559, 1683, 44);
})();
</script>
</body></html>
